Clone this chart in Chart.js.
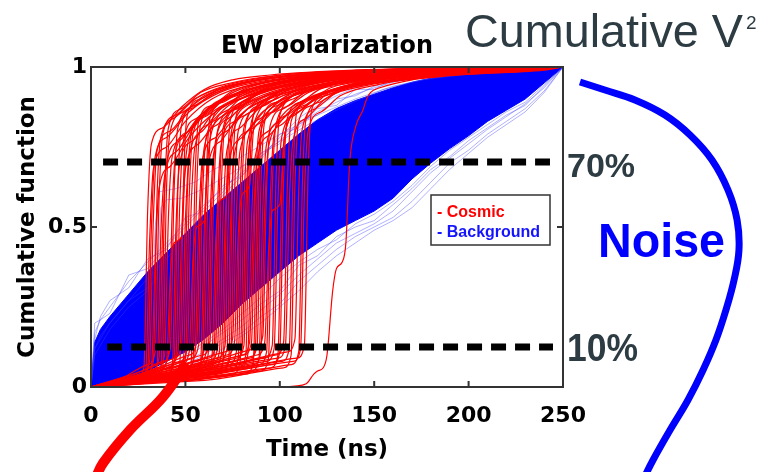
<!DOCTYPE html>
<html>
<head>
<meta charset="utf-8">
<title>EW polarization</title>
<script src="https://cdn.jsdelivr.net/npm/chart.js@4.4.1/dist/chart.umd.min.js"></script>
<style>
  body { margin: 0; background: #fff; }
</style>
</head>
<body>
<canvas id="cumChart" width="764" height="472"></canvas>
<script>
// Time grid for the background (noise) traces, in ns
const bgTimes = [0, 2, 5, 10, 20, 30, 40, 50, 60, 70, 80, 90, 100, 110, 120, 130, 140, 150, 160, 170, 180, 190, 200, 210, 220, 230, 240, 250];

// Edges of the dense background band
const bgUpper = [0, 0.14, 0.18, 0.22, 0.29, 0.36, 0.42, 0.48, 0.54, 0.59, 0.64, 0.69, 0.74, 0.79, 0.835, 0.87, 0.895, 0.915, 0.935, 0.952, 0.965, 0.975, 0.982, 0.988, 0.992, 0.995, 0.998, 1];
const bgLower = [0, 0, 0.003, 0.01, 0.03, 0.05, 0.08, 0.11, 0.15, 0.2, 0.26, 0.31, 0.36, 0.41, 0.45, 0.49, 0.52, 0.55, 0.59, 0.65, 0.7, 0.745, 0.785, 0.83, 0.865, 0.9, 0.95, 1];

// Individual background traces around the edges of the band
const bgTraces = [
  [0, 0.17, 0.21, 0.25, 0.33, 0.39, 0.45, 0.51, 0.57, 0.62, 0.67, 0.72, 0.77, 0.82, 0.86, 0.89, 0.915, 0.935, 0.952, 0.965, 0.975, 0.982, 0.988, 0.992, 0.995, 0.997, 0.999, 1],
  [0, 0.2, 0.21, 0.23, 0.35, 0.37, 0.44, 0.5, 0.56, 0.63, 0.66, 0.73, 0.76, 0.83, 0.85, 0.9, 0.91, 0.94, 0.955, 0.97, 0.978, 0.985, 0.99, 0.993, 0.996, 0.998, 0.999, 1],
  [0, 0.15, 0.22, 0.27, 0.31, 0.4, 0.43, 0.53, 0.55, 0.61, 0.69, 0.71, 0.79, 0.81, 0.87, 0.88, 0.93, 0.93, 0.96, 0.96, 0.98, 0.98, 0.99, 0.99, 0.995, 0.997, 0.999, 1],
  [0, 0.12, 0.16, 0.2, 0.27, 0.34, 0.4, 0.47, 0.53, 0.6, 0.66, 0.72, 0.78, 0.84, 0.88, 0.91, 0.935, 0.95, 0.965, 0.975, 0.983, 0.989, 0.993, 0.995, 0.997, 0.998, 0.999, 1],
  [0, 0, 0, 0.005, 0.015, 0.03, 0.05, 0.08, 0.11, 0.15, 0.19, 0.24, 0.29, 0.35, 0.4, 0.45, 0.48, 0.51, 0.55, 0.61, 0.67, 0.715, 0.76, 0.805, 0.845, 0.885, 0.935, 1],
  [0, 0, 0.002, 0.008, 0.02, 0.04, 0.06, 0.09, 0.13, 0.17, 0.21, 0.26, 0.3, 0.38, 0.41, 0.47, 0.5, 0.52, 0.57, 0.62, 0.68, 0.72, 0.77, 0.81, 0.85, 0.88, 0.94, 1],
  [0, 0, 0, 0.003, 0.01, 0.02, 0.04, 0.07, 0.1, 0.14, 0.17, 0.22, 0.26, 0.33, 0.38, 0.43, 0.47, 0.5, 0.53, 0.58, 0.64, 0.7, 0.74, 0.79, 0.83, 0.87, 0.925, 1],
  [0, 0, 0.004, 0.012, 0.025, 0.045, 0.07, 0.1, 0.14, 0.18, 0.23, 0.28, 0.34, 0.39, 0.43, 0.46, 0.51, 0.54, 0.58, 0.63, 0.69, 0.74, 0.78, 0.82, 0.86, 0.89, 0.945, 1],
  [0, 0, 0, 0.004, 0.012, 0.022, 0.035, 0.06, 0.09, 0.12, 0.16, 0.2, 0.25, 0.3, 0.36, 0.41, 0.45, 0.49, 0.52, 0.56, 0.62, 0.68, 0.73, 0.78, 0.82, 0.86, 0.92, 1]
];

// Two background traces with an early jump
const bgOutliers = [
  [[0, 0], [2, 0.12], [10, 0.2], [20, 0.27], [30, 0.31], [33, 0.33], [34, 0.5], [36, 0.61], [45, 0.62], [55, 0.64], [65, 0.68], [80, 0.72], [100, 0.79], [120, 0.85], [140, 0.9], [160, 0.94], [180, 0.965], [200, 0.98], [225, 0.992], [250, 1]],
  [[0, 0], [2, 0.1], [10, 0.18], [20, 0.25], [30, 0.3], [35, 0.34], [37, 0.56], [40, 0.585], [48, 0.59], [60, 0.62], [75, 0.67], [95, 0.75], [115, 0.82], [135, 0.88], [155, 0.93], [175, 0.96], [200, 0.978], [225, 0.99], [250, 1]]
];

// Cosmic-ray traces: flat start, sharp rise, slow saturation
const cosmicCurves = [
  [[0,0],[12,0.01],[24,0.03],[28,0.06],[30,0.55],[32,0.76],[38,0.81],[48,0.875],[60,0.93],[75,0.96],[95,0.975],[140,0.99],[250,1]],
  [[0,0],[15,0.01],[26,0.02],[30,0.05],[32,0.5],[34,0.72],[40,0.78],[52,0.86],[68,0.92],[90,0.955],[130,0.98],[250,1]],
  [[0,0],[14,0.02],[29,0.04],[33,0.08],[35,0.6],[37,0.78],[44,0.84],[55,0.9],[72,0.94],[100,0.97],[150,0.99],[250,1]],
  [[0,0],[18,0.02],[32,0.05],[36,0.09],[38,0.5],[40,0.7],[47,0.77],[58,0.85],[75,0.91],[100,0.95],[150,0.98],[250,1]],
  [[0,0],[20,0.01],[34,0.03],[38,0.06],[40,0.62],[42,0.8],[49,0.86],[60,0.91],[80,0.95],[110,0.975],[160,0.99],[250,1]],
  [[0,0],[22,0.03],[37,0.06],[41,0.1],[43,0.55],[45,0.74],[52,0.8],[63,0.87],[82,0.92],[110,0.96],[160,0.985],[250,1]],
  [[0,0],[20,0.02],[40,0.04],[44,0.08],[46,0.62],[48,0.82],[55,0.88],[66,0.92],[86,0.955],[115,0.975],[170,0.99],[250,1]],
  [[0,0],[25,0.03],[42,0.07],[46,0.11],[48,0.48],[50,0.68],[57,0.76],[68,0.84],[88,0.9],[118,0.95],[170,0.98],[250,1]],
  [[0,0],[24,0.02],[45,0.05],[49,0.09],[51,0.6],[53,0.79],[60,0.85],[71,0.9],[91,0.94],[120,0.97],[170,0.99],[250,1]],
  [[0,0],[28,0.04],[47,0.08],[51,0.12],[53,0.55],[55,0.75],[62,0.82],[73,0.88],[93,0.93],[125,0.965],[180,0.985],[250,1]],
  [[0,0],[26,0.01],[49,0.03],[53,0.07],[55,0.63],[57,0.83],[64,0.88],[75,0.925],[95,0.955],[125,0.98],[180,0.995],[250,1]],
  [[0,0],[30,0.03],[51,0.06],[55,0.1],[57,0.5],[59,0.71],[66,0.78],[77,0.86],[97,0.92],[128,0.96],[180,0.985],[250,1]],
  [[0,0],[32,0.04],[53,0.09],[57,0.13],[59,0.58],[61,0.78],[68,0.84],[79,0.9],[99,0.94],[130,0.97],[185,0.99],[250,1]],
  [[0,0],[30,0.02],[55,0.05],[59,0.09],[61,0.64],[63,0.84],[70,0.89],[81,0.93],[101,0.96],[130,0.98],[185,0.995],[250,1]],
  [[0,0],[34,0.03],[57,0.07],[61,0.11],[63,0.52],[65,0.73],[72,0.8],[83,0.87],[103,0.92],[135,0.96],[190,0.985],[250,1]],
  [[0,0],[35,0.05],[59,0.1],[63,0.14],[65,0.6],[67,0.8],[74,0.86],[85,0.91],[105,0.945],[135,0.97],[190,0.99],[250,1]],
  [[0,0],[33,0.02],[61,0.04],[65,0.08],[67,0.56],[69,0.76],[76,0.83],[87,0.89],[107,0.935],[140,0.97],[195,0.99],[250,1]],
  [[0,0],[38,0.04],[63,0.08],[67,0.12],[69,0.62],[71,0.82],[78,0.87],[89,0.92],[109,0.95],[140,0.975],[195,0.99],[250,1]],
  [[0,0],[36,0.03],[65,0.06],[69,0.1],[71,0.5],[73,0.7],[80,0.78],[91,0.86],[111,0.92],[145,0.96],[200,0.985],[250,1]],
  [[0,0],[40,0.05],[67,0.09],[71,0.13],[73,0.59],[75,0.79],[82,0.85],[93,0.9],[113,0.94],[145,0.97],[200,0.99],[250,1]],
  [[0,0],[38,0.02],[69,0.05],[73,0.09],[75,0.65],[77,0.85],[84,0.9],[95,0.94],[115,0.965],[150,0.985],[200,0.995],[250,1]],
  [[0,0],[42,0.06],[71,0.11],[75,0.15],[77,0.54],[79,0.74],[86,0.81],[97,0.88],[117,0.93],[150,0.965],[205,0.99],[250,1]],
  [[0,0],[40,0.03],[73,0.07],[77,0.11],[79,0.61],[81,0.81],[88,0.87],[99,0.92],[119,0.95],[150,0.975],[205,0.99],[250,1]],
  [[0,0],[44,0.02],[75,0.04],[79,0.08],[81,0.57],[83,0.77],[90,0.84],[101,0.9],[121,0.94],[155,0.97],[210,0.99],[250,1]],
  [[0,0],[45,0.04],[77,0.09],[81,0.13],[83,0.63],[85,0.83],[92,0.88],[103,0.925],[123,0.955],[155,0.98],[210,0.995],[250,1]],
  [[0,0],[42,0.03],[79,0.06],[83,0.1],[85,0.52],[87,0.72],[94,0.8],[105,0.87],[125,0.92],[160,0.96],[210,0.985],[250,1]],
  [[0,0],[48,0.05],[81,0.1],[85,0.14],[87,0.6],[89,0.8],[96,0.86],[107,0.91],[127,0.945],[160,0.97],[215,0.99],[250,1]],
  [[0,0],[46,0.04],[83,0.08],[87,0.12],[89,0.64],[91,0.84],[98,0.89],[109,0.93],[129,0.96],[165,0.98],[215,0.995],[250,1]],
  [[0,0],[50,0.02],[85,0.05],[89,0.09],[91,0.56],[93,0.76],[100,0.83],[111,0.89],[131,0.935],[165,0.97],[220,0.99],[250,1]],
  [[0,0],[52,0.06],[87,0.12],[91,0.16],[93,0.62],[95,0.82],[102,0.87],[113,0.92],[133,0.95],[170,0.975],[220,0.99],[250,1]],
  [[0,0],[50,0.03],[89,0.07],[93,0.11],[95,0.59],[97,0.79],[104,0.85],[115,0.9],[135,0.94],[170,0.97],[220,0.99],[250,1]],
  [[0,0],[55,0.04],[92,0.09],[96,0.13],[98,0.65],[100,0.85],[107,0.9],[118,0.935],[138,0.96],[175,0.98],[225,0.995],[250,1]],
  [[0,0],[56,0.03],[95,0.06],[99,0.1],[101,0.6],[103,0.8],[110,0.86],[121,0.91],[141,0.945],[175,0.97],[225,0.99],[250,1]],
  [[0,0],[60,0.05],[98,0.1],[102,0.14],[104,0.63],[106,0.83],[113,0.88],[124,0.92],[144,0.955],[180,0.98],[230,0.995],[250,1]],
  [[0,0],[62,0.04],[101,0.08],[105,0.12],[107,0.66],[109,0.86],[116,0.9],[127,0.935],[147,0.96],[180,0.98],[230,0.995],[250,1]],
  [[0,0],[64,0.06],[104,0.11],[108,0.15],[110,0.61],[112,0.81],[119,0.87],[130,0.92],[150,0.95],[185,0.975],[235,0.99],[250,1]],
  [[0,0],[66,0.03],[106,0.07],[110,0.11],[112,0.64],[114,0.84],[121,0.89],[132,0.93],[152,0.96],[185,0.98],[235,0.995],[250,1]],
  [[0,0],[68,0.05],[109,0.09],[113,0.13],[115,0.67],[117,0.87],[124,0.91],[135,0.94],[155,0.965],[190,0.985],[235,0.995],[250,1]],
  [[0,0],[95,0],[108,0.003],[114,0.01],[118,0.04],[120,0.05],[123,0.06],[125,0.1],[128,0.3],[130,0.37],[133,0.39],[135,0.45],[137,0.7],[140,0.81],[144,0.865],[146,0.9],[148,0.92],[153,0.935],[170,0.96],[200,0.98],[250,1]],
  [[0,0],[14,0.01],[25,0.02],[29,0.05],[31,0.45],[33,0.68],[40,0.75],[50,0.83],[64,0.9],[85,0.945],[120,0.975],[250,1]],
  [[0,0],[16,0.02],[27,0.04],[31,0.08],[33,0.52],[35,0.74],[42,0.8],[52,0.87],[66,0.925],[90,0.96],[130,0.985],[250,1]],
  [[0,0],[18,0.01],[28,0.03],[32,0.06],[34,0.4],[36,0.62],[42,0.69],[52,0.78],[66,0.86],[88,0.93],[130,0.97],[250,1]],
  [[0,0],[17,0.03],[30,0.07],[34,0.11],[36,0.58],[38,0.79],[45,0.85],[55,0.9],[70,0.94],[95,0.97],[140,0.99],[250,1]],
  [[0,0],[20,0.02],[31,0.04],[35,0.07],[37,0.48],[39,0.66],[46,0.74],[56,0.83],[72,0.9],[98,0.95],[145,0.98],[250,1]],
  [[0,0],[19,0.01],[33,0.03],[37,0.06],[39,0.6],[41,0.81],[48,0.87],[58,0.92],[74,0.95],[100,0.975],[150,0.99],[250,1]],
  [[0,0],[21,0.03],[35,0.06],[39,0.1],[41,0.53],[43,0.72],[50,0.79],[60,0.86],[78,0.92],[105,0.96],[155,0.985],[250,1]],
  [[0,0],[22,0.02],[36,0.05],[40,0.08],[42,0.35],[44,0.45],[48,0.47],[50,0.7],[52,0.78],[62,0.85],[80,0.91],[108,0.955],[160,0.985],[250,1]],
  [[0,0],[23,0.04],[38,0.08],[42,0.12],[44,0.61],[46,0.81],[53,0.87],[63,0.91],[82,0.95],[110,0.975],[160,0.99],[250,1]],
  [[0,0],[24,0.01],[39,0.03],[43,0.06],[45,0.5],[47,0.7],[54,0.77],[64,0.85],[84,0.91],[112,0.955],[165,0.985],[250,1]],
  [[0,0],[25,0.03],[41,0.06],[45,0.1],[47,0.57],[49,0.77],[56,0.84],[66,0.89],[86,0.935],[115,0.97],[165,0.99],[250,1]],
  [[0,0],[26,0.02],[43,0.04],[47,0.07],[49,0.64],[51,0.85],[58,0.9],[68,0.93],[88,0.96],[118,0.98],[170,0.995],[250,1]],
  [[0,0],[27,0.05],[44,0.09],[48,0.13],[50,0.52],[52,0.72],[59,0.8],[69,0.87],[89,0.92],[120,0.96],[170,0.985],[250,1]],
  [[0,0],[28,0.02],[46,0.05],[50,0.09],[52,0.59],[54,0.79],[61,0.85],[71,0.9],[91,0.94],[122,0.97],[175,0.99],[250,1]],
  [[0,0],[29,0.04],[48,0.07],[52,0.11],[54,0.4],[56,0.5],[60,0.52],[62,0.72],[64,0.8],[74,0.87],[94,0.925],[125,0.96],[175,0.985],[250,1]],
  [[0,0],[30,0.03],[50,0.05],[54,0.08],[56,0.62],[58,0.82],[65,0.88],[75,0.92],[95,0.955],[128,0.98],[180,0.995],[250,1]],
  [[0,0],[31,0.05],[52,0.1],[56,0.14],[58,0.55],[60,0.75],[67,0.82],[77,0.88],[97,0.93],[130,0.965],[180,0.99],[250,1]],
  [[0,0],[32,0.02],[54,0.04],[58,0.07],[60,0.5],[62,0.69],[69,0.77],[79,0.85],[99,0.91],[132,0.955],[185,0.985],[250,1]],
  [[0,0],[33,0.04],[56,0.08],[60,0.12],[62,0.63],[64,0.83],[71,0.88],[81,0.92],[101,0.955],[135,0.98],[185,0.995],[250,1]],
  [[0,0],[34,0.03],[58,0.06],[62,0.1],[64,0.57],[66,0.77],[73,0.84],[83,0.89],[103,0.935],[138,0.97],[190,0.99],[250,1]],
  [[0,0],[35,0.02],[60,0.05],[64,0.09],[66,0.45],[68,0.58],[72,0.6],[74,0.78],[76,0.83],[86,0.89],[106,0.935],[140,0.97],[190,0.99],[250,1]],
  [[0,0],[36,0.05],[62,0.09],[66,0.13],[68,0.61],[70,0.81],[77,0.87],[87,0.91],[107,0.95],[142,0.975],[195,0.99],[250,1]],
  [[0,0],[37,0.03],[64,0.07],[68,0.11],[70,0.54],[72,0.74],[79,0.81],[89,0.87],[109,0.925],[145,0.965],[195,0.99],[250,1]],
  [[0,0],[38,0.02],[66,0.04],[70,0.08],[72,0.64],[74,0.84],[81,0.89],[91,0.93],[111,0.96],[148,0.98],[200,0.995],[250,1]],
  [[0,0],[39,0.04],[68,0.08],[72,0.12],[74,0.53],[76,0.73],[83,0.8],[93,0.87],[113,0.92],[150,0.96],[200,0.985],[250,1]],
  [[0,0],[40,0.03],[70,0.06],[74,0.1],[76,0.6],[78,0.8],[85,0.86],[95,0.91],[115,0.945],[152,0.975],[205,0.99],[250,1]],
  [[0,0],[41,0.05],[72,0.1],[76,0.14],[78,0.48],[80,0.6],[84,0.63],[86,0.8],[88,0.85],[98,0.9],[118,0.94],[155,0.97],[205,0.99],[250,1]],
  [[0,0],[42,0.02],[74,0.05],[78,0.09],[80,0.62],[82,0.82],[89,0.88],[99,0.92],[119,0.955],[158,0.98],[210,0.995],[250,1]],
  [[0,0],[43,0.04],[76,0.08],[80,0.12],[82,0.56],[84,0.76],[91,0.83],[101,0.89],[121,0.935],[160,0.97],[210,0.99],[250,1]],
  [[0,0],[44,0.03],[78,0.06],[82,0.1],[84,0.65],[86,0.85],[93,0.9],[103,0.935],[123,0.96],[162,0.98],[215,0.995],[250,1]],
  [[0,0],[45,0.05],[80,0.1],[84,0.14],[86,0.51],[88,0.71],[95,0.79],[105,0.86],[125,0.92],[165,0.96],[215,0.985],[250,1]],
  [[0,0],[46,0.02],[82,0.04],[86,0.08],[88,0.6],[90,0.8],[97,0.86],[107,0.91],[127,0.945],[168,0.975],[220,0.99],[250,1]],
  [[0,0],[47,0.04],[84,0.09],[88,0.13],[90,0.63],[92,0.83],[99,0.88],[109,0.92],[129,0.955],[170,0.98],[220,0.995],[250,1]],
  [[0,0],[48,0.03],[86,0.07],[90,0.11],[92,0.55],[94,0.75],[101,0.82],[111,0.88],[131,0.93],[172,0.965],[225,0.99],[250,1]],
  [[0,0],[49,0.05],[88,0.1],[92,0.14],[94,0.42],[96,0.55],[100,0.57],[102,0.76],[104,0.82],[114,0.88],[134,0.93],[175,0.97],[225,0.99],[250,1]],
  [[0,0],[50,0.02],[90,0.05],[94,0.09],[96,0.62],[98,0.82],[105,0.88],[115,0.92],[135,0.955],[178,0.98],[230,0.995],[250,1]],
  [[0,0],[52,0.04],[93,0.08],[97,0.12],[99,0.58],[101,0.78],[108,0.85],[118,0.9],[138,0.94],[180,0.97],[230,0.99],[250,1]],
  [[0,0],[54,0.03],[96,0.07],[100,0.11],[102,0.64],[104,0.84],[111,0.89],[121,0.93],[141,0.96],[182,0.98],[235,0.995],[250,1]],
  [[0,0],[56,0.05],[99,0.09],[103,0.13],[105,0.57],[107,0.77],[114,0.84],[124,0.9],[144,0.94],[185,0.97],[235,0.99],[250,1]],
  [[0,0],[58,0.02],[102,0.06],[106,0.1],[108,0.63],[110,0.83],[117,0.88],[127,0.925],[147,0.955],[188,0.98],[240,0.995],[250,1]],
  [[0,0],[60,0.04],[107,0.08],[111,0.12],[113,0.6],[115,0.8],[122,0.86],[132,0.91],[152,0.945],[190,0.975],[240,0.99],[250,1]]
];

// Threshold lines (70 % and 10 %)
const line70 = [[6.4, 0.703], [243.1, 0.703]];
const line10 = [[8.5, 0.125], [244.7, 0.125]];

// Hand-drawn arrows leaving the plot
const cosmicArc = [[2.1, -0.29], [6.4, -0.2375], [20.7, -0.134], [38.1, -0.031], [50.8, 0.075]];
const noiseArc = [[259, 0.953], [272.2, 0.928], [288.1, 0.897], [304, 0.85], [317.3, 0.7875], [328.9, 0.7094], [337.4, 0.6156], [342.2, 0.5219], [343.2, 0.4281], [340.6, 0.3344], [336.3, 0.2406], [331, 0.1469], [324.2, 0.0531], [316.2, -0.0406], [306.7, -0.1344], [297.7, -0.2281], [292.4, -0.2906]];

const xTickValues = [0, 50, 100, 150, 200, 250];
const yTickValues = [0, 0.5, 1];

const toPoints = (xs, ys) => xs.map((x, i) => ({ x: x, y: ys[i] }));

const datasets = [];
datasets.push({ data: toPoints(bgTimes, bgUpper), borderColor: 'rgb(0,0,255)', borderWidth: 1, backgroundColor: 'rgb(0,0,255)', fill: '+1', order: 20 });
datasets.push({ data: toPoints(bgTimes, bgLower), borderColor: 'rgb(0,0,255)', borderWidth: 1, fill: false, order: 20 });
bgTraces.forEach(tr => datasets.push({ data: toPoints(bgTimes, tr), borderColor: 'rgba(60,60,255,0.4)', borderWidth: 1, fill: false, order: 15 }));
bgOutliers.forEach(tr => datasets.push({ data: tr, borderColor: 'rgba(60,60,255,0.4)', borderWidth: 1, fill: false, order: 15 }));
cosmicCurves.forEach(c => datasets.push({ data: c, borderColor: 'rgb(255,0,0)', borderWidth: 1.2, cubicInterpolationMode: 'monotone', fill: false, order: 10 }));
datasets.push({ data: line70, borderColor: '#000', borderWidth: 7, borderDash: [15, 9], borderCapStyle: 'butt', fill: false, order: 2 });
datasets.push({ data: line10, borderColor: '#000', borderWidth: 7, borderDash: [15, 9], borderCapStyle: 'butt', fill: false, order: 1, frameAfter: true });
datasets.push({ data: cosmicArc, borderColor: 'rgb(255,0,0)', borderWidth: 10, tension: 0.4, clip: false, fill: false, order: 0 });
datasets.push({ data: noiseArc, borderColor: 'rgb(0,0,255)', borderWidth: 7, tension: 0.4, clip: false, fill: false, order: 0 });

// Axes box with inward ticks, drawn just before the arrows
function drawFrame(chart) {
  const { ctx, chartArea: a, scales } = chart;
  ctx.save();
  ctx.strokeStyle = '#333';
  ctx.lineWidth = 2;
  ctx.strokeRect(a.left, a.top, a.right - a.left, a.bottom - a.top);
  ctx.beginPath();
  xTickValues.forEach(v => {
    const px = scales.x.getPixelForValue(v);
    ctx.moveTo(px, a.bottom); ctx.lineTo(px, a.bottom - 6);
    ctx.moveTo(px, a.top); ctx.lineTo(px, a.top + 6);
  });
  yTickValues.forEach(v => {
    const py = scales.y.getPixelForValue(v);
    ctx.moveTo(a.left, py); ctx.lineTo(a.left + 6, py);
    ctx.moveTo(a.right, py); ctx.lineTo(a.right - 6, py);
  });
  ctx.stroke();
  ctx.restore();
}

function drawLegendBox(chart) {
  const { ctx, chartArea: a } = chart;
  const left = a.right - 132, top = a.top + 128;
  ctx.save();
  ctx.fillStyle = '#fff';
  ctx.fillRect(left, top, 119, 50);
  ctx.strokeStyle = '#333';
  ctx.lineWidth = 1.5;
  ctx.strokeRect(left, top, 119, 50);
  ctx.font = 'bold 16px "Liberation Sans", Arial, sans-serif';
  ctx.textBaseline = 'alphabetic';
  ctx.fillStyle = 'rgb(255,0,0)';
  ctx.fillText('- Cosmic', left + 6, top + 22);
  ctx.fillStyle = 'rgb(20,20,255)';
  ctx.fillText('- Background', left + 6, top + 42, 108);
  ctx.restore();
}

function drawNotes(chart) {
  const { ctx, chartArea: a } = chart;
  ctx.save();
  ctx.textBaseline = 'alphabetic';
  ctx.fillStyle = '#000';
  ctx.textAlign = 'center';
  ctx.font = 'bold 24px "DejaVu Sans", sans-serif';
  ctx.fillText('EW polarization', (a.left + a.right) / 2, 53, 212);
  ctx.textAlign = 'left';
  ctx.fillStyle = '#2d3b43';
  ctx.font = '47px "Liberation Sans", Arial, sans-serif';
  const head = 'Cumulative V';
  const headW = Math.min(ctx.measureText(head).width, 278);
  ctx.fillText(head, 465, 47, 278);
  ctx.font = '19px "Liberation Sans", Arial, sans-serif';
  ctx.fillText('2', 465 + headW + 3, 29);
  ctx.font = 'bold 34px "Liberation Sans", Arial, sans-serif';
  ctx.fillText('70%', 567, 177, 71);
  ctx.font = 'bold 38px "Liberation Sans", Arial, sans-serif';
  ctx.fillText('10%', 567, 361, 71);
  ctx.fillStyle = 'rgb(0,0,255)';
  ctx.font = 'bold 48px "Liberation Sans", Arial, sans-serif';
  ctx.fillText('Noise', 598, 257, 127);
  ctx.restore();
}

const notesPlugin = {
  id: 'notes',
  afterDatasetDraw(chart, args) {
    if (chart.data.datasets[args.index].frameAfter) drawFrame(chart);
  },
  afterDraw(chart) {
    drawLegendBox(chart);
    drawNotes(chart);
  }
};

const axisFont = { family: 'DejaVu Sans', weight: 'bold', size: 22 };
const titleFont = { family: 'DejaVu Sans', weight: 'bold', size: 23 };

new Chart(document.getElementById('cumChart').getContext('2d'), {
  type: 'line',
  data: { datasets: datasets },
  options: {
    responsive: false,
    animation: false,
    events: [],
    layout: { padding: { top: 67, right: 201, left: 0, bottom: 0 } },
    elements: { point: { radius: 0 }, line: { tension: 0 } },
    plugins: { legend: { display: false }, tooltip: { enabled: false } },
    scales: {
      x: {
        type: 'linear', min: 0, max: 250,
        afterFit: s => { s.height = 85; },
        afterBuildTicks: s => { s.ticks = xTickValues.map(v => ({ value: v })); },
        grid: { display: false, drawTicks: false },
        border: { display: false },
        ticks: { padding: 16, color: '#000', font: axisFont },
        title: { display: true, text: 'Time (ns)', color: '#000', font: titleFont, padding: { bottom: 8 } }
      },
      y: {
        min: 0, max: 1,
        afterFit: s => { s.width = 91; },
        afterBuildTicks: s => { s.ticks = yTickValues.map(v => ({ value: v })); },
        grid: { display: false, drawTicks: false },
        border: { display: false },
        ticks: { padding: 4, color: '#000', font: axisFont, callback: v => String(v) },
        title: { display: true, text: 'Cumulative function', color: '#000', font: titleFont, padding: { top: 14 } }
      }
    }
  },
  plugins: [notesPlugin]
});
</script>
</body>
</html>
